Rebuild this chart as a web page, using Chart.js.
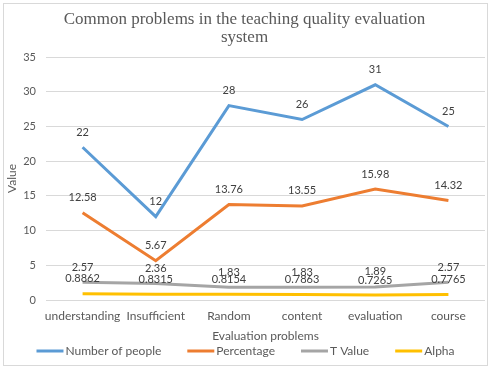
<!DOCTYPE html>
<html>
<head>
<meta charset="utf-8">
<script src="https://cdn.jsdelivr.net/npm/chart.js@4"></script>
<style>
  html, body { margin: 0; padding: 0; background: #ffffff; }
  #wrap { position: absolute; left: 3px; top: 3px; width: 483px; height: 361px; border: 1px solid #d9d9d9; background: #fff; }
</style>
</head>
<body>
<div id="wrap"><canvas id="grafico" width="483" height="361"></canvas></div>
<script>
// ==================== DADOS ====================
const categorias = ["understanding", "Insufficient", "Random", "content", "evaluation", "course"];
const numeroPessoas = [22, 12, 28, 26, 31, 25];
const percentagem = [12.58, 5.67, 13.76, 13.55, 15.98, 14.32];
const valorT = [2.57, 2.36, 1.83, 1.83, 1.89, 2.57];
const alpha = [0.8862, 0.8315, 0.8154, 0.7863, 0.7265, 0.7765];
const ticksY = [0, 5, 10, 15, 20, 25, 30, 35];

const FONTE = "Lato, 'Noto Sans', sans-serif";
const COR_TEXTO = "#595959";

// ==================== RÓTULOS DE DADOS ====================
const rotulosPlugin = {
    id: "rotulos",
    afterDatasetsDraw(chart) {
        const ctx = chart.ctx;
        ctx.save();
        ctx.font = "11px " + FONTE;
        ctx.fillStyle = "#404040";
        ctx.textAlign = "center";
        ctx.textBaseline = "middle";
        chart.data.datasets.forEach((ds, i) => {
            chart.getDatasetMeta(i).data.forEach((pt, j) => {
                ctx.fillText(String(ds.data[j]), pt.x, pt.y - 15);
            });
        });
        ctx.restore();
    }
};

// ==================== LEGENDA (desenhada à mão) ====================
const legendaPlugin = {
    id: "legendaLinha",
    afterDraw(chart) {
        const ctx = chart.ctx;
        const y = 347, linha = 27, espaco = 2, gap = 26;
        ctx.save();
        ctx.font = "12px " + FONTE;
        ctx.textBaseline = "middle";
        ctx.textAlign = "left";
        const itens = chart.data.datasets.map(ds => ({ ds, w: linha + espaco + ctx.measureText(ds.label).width }));
        const total = itens.reduce((s, it) => s + it.w, 0) + gap * (itens.length - 1);
        let x = (chart.width - total) / 2;
        itens.forEach(it => {
            ctx.strokeStyle = it.ds.borderColor;
            ctx.lineWidth = 3;
            ctx.beginPath();
            ctx.moveTo(x, y);
            ctx.lineTo(x + linha, y);
            ctx.stroke();
            ctx.fillStyle = COR_TEXTO;
            ctx.fillText(it.ds.label, x + linha + espaco, y);
            x += it.w + gap;
        });
        ctx.restore();
    }
};

function serie(label, data, cor) {
    return { label, data, borderColor: cor, backgroundColor: cor, borderWidth: 3, pointRadius: 0, tension: 0 };
}

new Chart(document.getElementById("grafico"), {
    type: "line",
    data: {
        labels: categorias,
        datasets: [
            serie("Number of people", numeroPessoas, "#5B9BD5"),
            serie("Percentage", percentagem, "#ED7D31"),
            serie("T Value", valorT, "#A5A5A5"),
            serie("Alpha", alpha, "#FFC000")
        ]
    },
    options: {
        responsive: false,
        animation: false,
        layout: { padding: { left: 0, right: 2, top: 0, bottom: 21 } },
        plugins: {
            title: {
                display: true,
                text: ["Common problems in the teaching quality evaluation", "system"],
                color: COR_TEXTO,
                font: { family: "'Liberation Serif', 'Times New Roman', serif", size: 17, weight: "normal", lineHeight: 1.06 },
                padding: { top: 7, bottom: 10 }
            },
            legend: { display: false },
            tooltip: { enabled: false }
        },
        scales: {
            x: {
                offset: true,
                afterFit: s => { s.height = 44; },
                grid: { display: false, drawTicks: false },
                border: { display: false },
                ticks: { color: COR_TEXTO, font: { family: FONTE, size: 12 }, maxRotation: 0, autoSkip: false, padding: 9 },
                title: { display: true, text: "Evaluation problems", color: COR_TEXTO, font: { family: FONTE, size: 12 }, padding: { top: 0, bottom: 1 } }
            },
            y: {
                min: 0,
                max: 35,
                afterFit: s => { s.width = 42; },
                afterBuildTicks: axis => { axis.ticks = ticksY.map(v => ({ value: v })); },
                grid: { color: "#d9d9d9", drawTicks: false },
                border: { display: false },
                ticks: { color: COR_TEXTO, font: { family: FONTE, size: 11 }, padding: 10 },
                title: { display: true, text: "Value", color: COR_TEXTO, font: { family: FONTE, size: 12 }, padding: { top: 1, bottom: 0 } }
            }
        }
    },
    plugins: [rotulosPlugin, legendaPlugin]
});
</script>
</body>
</html>
